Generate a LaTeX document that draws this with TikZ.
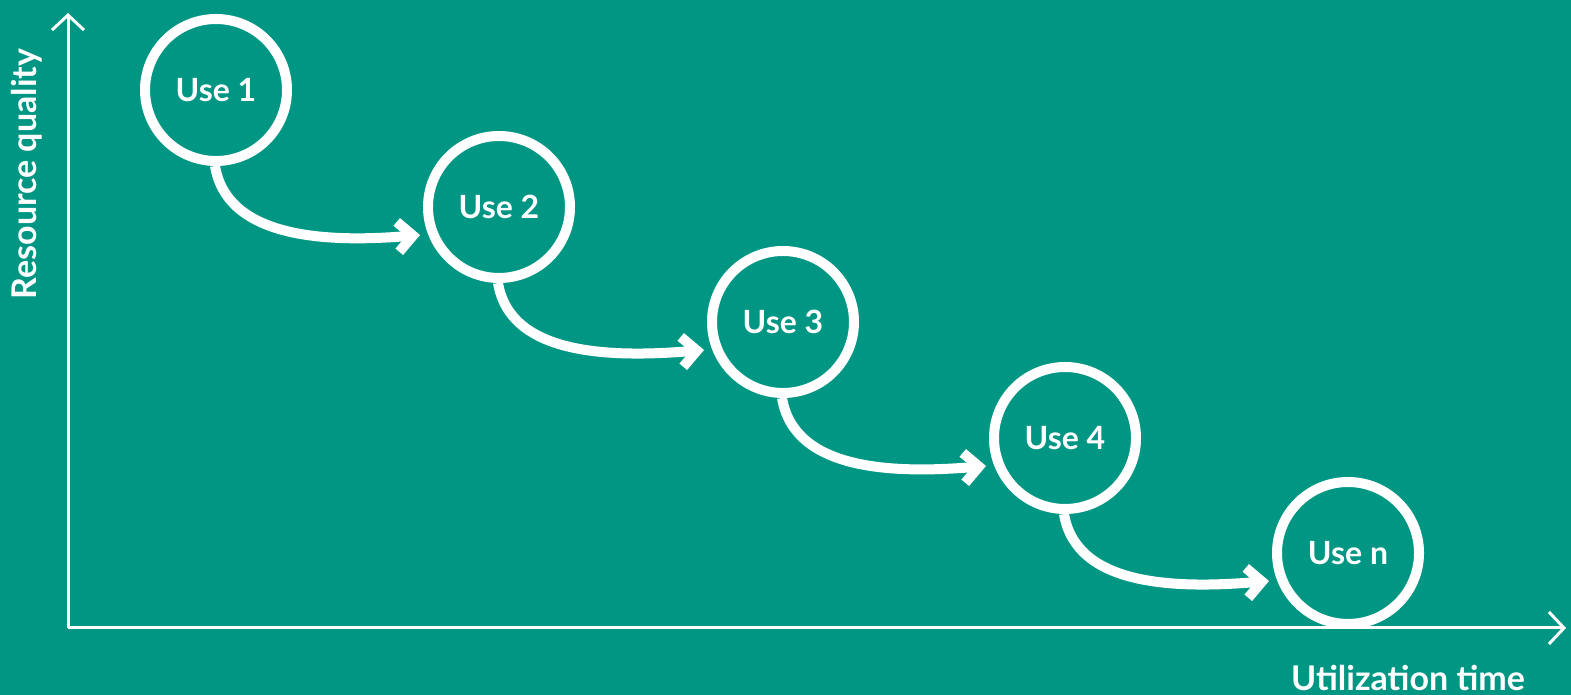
\documentclass[tikz,border=0pt]{standalone}
\usepackage{fontspec}
\setmainfont{Lato}
\usetikzlibrary{arrows.meta,calc}
\definecolor{bgteal}{HTML}{009684}
\tikzset{
  usenode/.style={circle,draw=white,line width=10pt,minimum size=142pt,inner sep=0pt,
    text=white,font=\bfseries\fontsize{32}{38}\selectfont},
  flow/.style={draw=white,line width=10pt,-{Straight Barb[length=15pt,width=30pt,line width=10pt]}},
  axis/.style={draw=white,line width=3pt,-{Straight Barb[length=15pt,width=32pt,line width=3pt]}},
  axlabel/.style={text=white,font=\bfseries\fontsize{34}{40}\selectfont,inner sep=0pt}
}
\begin{document}
\begin{tikzpicture}[x=1pt,y=1pt]
\fill[bgteal] (0,0) rectangle (1571,695);
\useasboundingbox (0,0) rectangle (1571,695);
\coordinate (origin) at (68,67);
\coordinate (ytop) at (68,682);
\coordinate (xend) at (1566,67);
\draw[axis] (origin) -- (ytop);
\draw[axis] (origin) -- (xend);
\node[axlabel,rotate=90] (ylab) at (27,521) {Resource quality};
\node[axlabel] (xlab) at (1408,17) {Utilization time};
\node[usenode] (u1) at (216,605) {Use 1};
\node[usenode] (u2) at (499,488) {Use 2};
\node[usenode] (u3) at (783,373) {Use 3};
\node[usenode] (u4) at (1065,257) {Use 4};
\node[usenode] (un) at (1348,142) {Use n};
\foreach \a/\b in {u1/u2,u2/u3,u3/u4,u4/un}{
  \draw[flow] ($(\a.center)+(-1,-76)$) .. controls +(12,-72) and +(-95,-8) .. ($(\b.center)+(-79,-28)$);
}
\end{tikzpicture}
\end{document}
